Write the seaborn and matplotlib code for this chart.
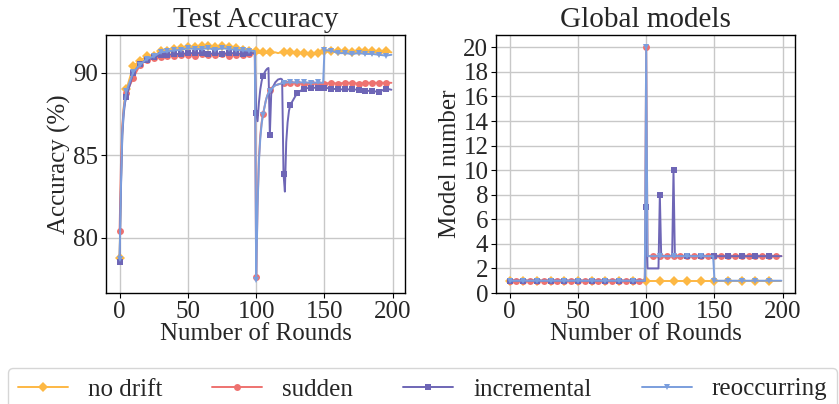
import matplotlib
matplotlib.use("Agg")
import matplotlib.pyplot as plt
import seaborn as sns

# ---------------- data ----------------
series_names = ["no drift", "sudden", "incremental", "reoccurring"]
series_colors = ["#FDB844", "#EE7270", "#6E66B6", "#7B9EDD"]
series_markers = ["D", "o", "s", "v"]

acc_rounds = [0, 1, 2, 3, 4, 5, 10, 15, 20, 25, 30, 35, 40, 45, 50, 55, 60, 65, 70, 75,
              80, 85, 90, 95, 99, 100, 101, 102, 103, 104, 105, 107, 108, 109, 110, 111,
              112, 114, 116, 118, 119, 120, 121, 122, 123, 124, 125, 130, 135, 140, 145,
              149, 150, 155, 160, 165, 170, 175, 180, 185, 190, 195, 199]

acc_no_drift = [78.8, 83.5, 86.5, 87.9, 88.6, 89.0, 90.4, 90.75, 91.0, 91.05, 91.3, 91.35,
                91.47, 91.5, 91.56, 91.56, 91.62, 91.62, 91.58, 91.62, 91.58, 91.52, 91.4,
                91.32, 91.28, 91.3, 91.25, 91.2, 91.25, 91.2, 91.25, 91.2, 91.25, 91.2,
                91.25, 91.2, 91.2, 91.25, 91.2, 91.25, 91.2, 91.25, 91.2, 91.2, 91.25, 91.2,
                91.25, 91.2, 91.2, 91.15, 91.2, 91.25, 91.3, 91.33, 91.3, 91.3, 91.25,
                91.3, 91.3, 91.3, 91.25, 91.3, 91.25]

acc_sudden = [80.4, 84.5, 86.8, 87.8, 88.4, 88.8, 89.7, 90.5, 90.8, 90.9, 90.95, 91.0,
              91.05, 91.1, 91.1, 91.05, 91.15, 91.1, 91.1, 91.15, 91.05, 91.1, 91.1, 91.15,
              91.15, 77.6, 82.0, 84.8, 86.2, 87.0, 87.5, 88.3, 88.6, 88.8, 88.95, 89.05,
              89.15, 89.25, 89.3, 89.35, 89.35, 89.4, 89.4, 89.4, 89.45, 89.4, 89.4, 89.4,
              89.35, 89.4, 89.35, 89.4, 89.35, 89.4, 89.35, 89.4, 89.4, 89.35, 89.4, 89.4,
              89.4, 89.4, 89.4]

acc_incremental = [78.55, 83.0, 86.2, 87.5, 88.2, 88.55, 90.0, 90.55, 90.8, 90.95, 91.1,
                   91.1, 91.15, 91.15, 91.2, 91.2, 91.2, 91.15, 91.2, 91.15, 91.2, 91.2,
                   91.15, 91.2, 91.2, 87.58, 87.07, 88.2, 89.0, 89.5, 89.84, 90.15, 90.25,
                   90.3, 86.22, 88.7, 89.1, 89.43, 89.6, 89.65, 89.6, 83.88, 82.8, 85.8,
                   87.0, 87.7, 88.06, 88.78, 89.05, 89.1, 89.1, 89.1, 89.1, 89.05, 89.0,
                   89.0, 89.0, 88.98, 88.92, 88.9, 88.85, 89.05, 88.98]

acc_reoccurring = [78.7, 83.2, 86.4, 87.7, 88.4, 88.9, 90.05, 90.5, 90.85, 91.0, 91.25,
                   91.3, 91.37, 91.4, 91.5, 91.45, 91.45, 91.5, 91.4, 91.5, 91.45, 91.4,
                   91.37, 91.35, 91.33, 77.43, 81.8, 84.6, 86.0, 86.9, 87.47, 88.3, 88.6,
                   88.8, 88.9, 89.0, 89.1, 89.25, 89.3, 89.35, 89.38, 89.4, 89.4, 89.42,
                   89.42, 89.43, 89.43, 89.42, 89.43, 89.4, 89.42, 89.4, 91.37, 91.35, 91.2,
                   91.2, 91.15, 91.2, 91.15, 91.15, 91.1, 91.05, 91.1]

model_rounds = [0, 5, 10, 15, 20, 25, 30, 35, 40, 45, 50, 55, 60, 65, 70, 75, 80, 85, 90, 95,
                99, 100, 101, 105, 109, 110, 111, 115, 119, 120, 121,
                125, 130, 135, 140, 145, 149,
                150, 155, 160, 165, 170, 175, 180, 185, 190, 195, 199]

models_no_drift = [1, 1, 1, 1, 1, 1, 1, 1, 1, 1, 1, 1, 1, 1, 1, 1, 1, 1, 1, 1,
                   1, 1, 1, 1, 1, 1, 1, 1, 1, 1, 1,
                   1, 1, 1, 1, 1, 1,
                   1, 1, 1, 1, 1, 1, 1, 1, 1, 1, 1]
models_sudden = [1, 1, 1, 1, 1, 1, 1, 1, 1, 1, 1, 1, 1, 1, 1, 1, 1, 1, 1, 1,
                 1, 20, 3, 3, 3, 3, 3, 3, 3, 3, 3,
                 3, 3, 3, 3, 3, 3,
                 3, 3, 3, 3, 3, 3, 3, 3, 3, 3, 3]
models_incremental = [1, 1, 1, 1, 1, 1, 1, 1, 1, 1, 1, 1, 1, 1, 1, 1, 1, 1, 1, 1,
                      1, 7, 2, 2, 2, 8, 3, 3, 3, 10, 3,
                      3, 3, 3, 3, 3, 3,
                      3, 3, 3, 3, 3, 3, 3, 3, 3, 3, 3]
models_reoccurring = [1, 1, 1, 1, 1, 1, 1, 1, 1, 1, 1, 1, 1, 1, 1, 1, 1, 1, 1, 1,
                      1, 20, 3, 3, 3, 3, 3, 3, 3, 3, 3,
                      3, 3, 3, 3, 3, 3,
                      1, 1, 1, 1, 1, 1, 1, 1, 1, 1, 1]

acc_series = [acc_no_drift, acc_sudden, acc_incremental, acc_reoccurring]
model_series = [models_no_drift, models_sudden, models_incremental, models_reoccurring]

# ---------------- style ----------------
sns.set_theme(style="ticks")
plt.rcParams["font.family"] = ["Liberation Serif", "DejaVu Serif"]

fig = plt.figure(figsize=(8.39, 4.04), dpi=100)
ax1 = fig.add_axes([106 / 839, 1 - 293 / 404, (405 - 106) / 839, (293 - 35) / 404])
ax2 = fig.add_axes([496 / 839, 1 - 293 / 404, (795 - 496) / 839, (293 - 35) / 404])

acc_marks = [i for i, r in enumerate(acc_rounds) if r % 5 == 0]
for name, col, mk, ys in zip(series_names, series_colors, series_markers, acc_series):
    sns.lineplot(x=acc_rounds, y=ys, ax=ax1, color=col, marker=mk, markersize=5,
                 markeredgewidth=0, markevery=acc_marks, linewidth=1.4, label=name,
                 sort=False)

for name, col, mk, ys in zip(series_names, series_colors, series_markers, model_series):
    step = 5 if name == "sudden" else 10
    marks = [i for i, r in enumerate(model_rounds) if r % step == 0]
    sns.lineplot(x=model_rounds, y=ys, ax=ax2, color=col, marker=mk, markersize=5,
                 markeredgewidth=0, markevery=marks, linewidth=1.4, label=name,
                 sort=False)

for ax in (ax1, ax2):
    ax.grid(True, color="#c8c8c8", linewidth=1.0)
    ax.set_axisbelow(True)
    for sp in ax.spines.values():
        sp.set_color("black")
        sp.set_linewidth(1.0)
    ax.tick_params(labelsize=18, length=3.5, width=0.8, color="black", pad=2)
    ax.set_xlabel("Number of Rounds", fontsize=18, labelpad=0)
    ax.set_xticks([0, 50, 100, 150, 200])
    ax.set_xlim(-9.95, 208.95)

ax1.set_ylim(76.65, 92.3)
ax1.set_yticks([80, 85, 90])
ax1.set_ylabel("Accuracy (%)", fontsize=18, labelpad=2)
ax1.set_title("Test Accuracy", fontsize=21, pad=6)

ax2.set_ylim(0, 21)
ax2.set_yticks(list(range(0, 21, 2)))
ax2.set_ylabel("Model number", fontsize=18, labelpad=2)
ax2.set_title("Global models", fontsize=21, pad=6)

handles, labels = ax1.get_legend_handles_labels()
ax1.get_legend().remove()
ax2.get_legend().remove()
fig.legend(handles, labels, loc="upper left", bbox_to_anchor=(8 / 839, 1 - 368 / 404),
           ncol=4, fontsize=18, frameon=True, borderaxespad=0, handlelength=2.0,
           columnspacing=2.0, handletextpad=0.8)

fig.savefig("out.png", dpi=100)
